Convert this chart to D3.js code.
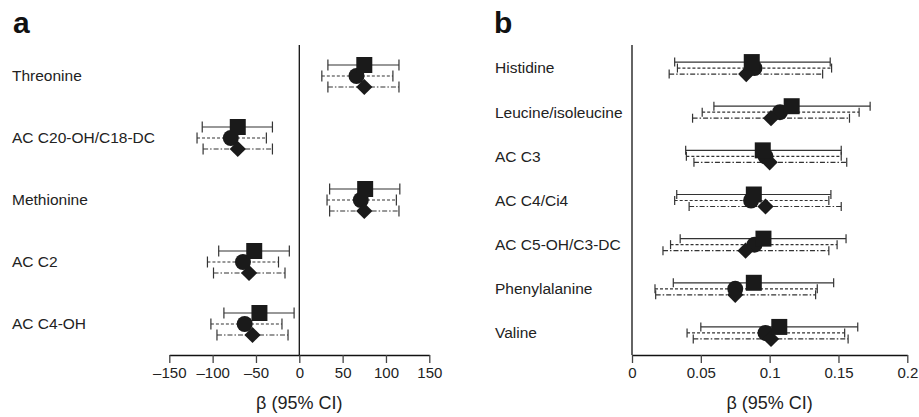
<!DOCTYPE html>
<html>
<head>
<meta charset="utf-8">
<script src="https://cdn.jsdelivr.net/npm/d3@7"></script>
<style>
  body { margin: 0; background: #fff; }
  svg { font-family: "Liberation Sans", Arial, sans-serif; }
</style>
</head>
<body>
<div id="chart"></div>
<script>
// panel a: [estimate, lower, upper] for each model
const labelsA = ['Threonine', 'AC C20-OH/C18-DC', 'Methionine', 'AC C2', 'AC C4-OH'];
const squareA = [[75, 33, 115], [-71, -112, -31], [76, 35, 116], [-52, -93, -11.5], [-46, -87, -6]];
const circleA = [[66, 26, 108], [-79, -118, -38], [71, 32, 112], [-65, -106, -24], [-63, -102, -20]];
const diamondA = [[75, 33, 115], [-71, -111, -31], [75, 35, 115], [-58, -99, -16.5], [-54, -95, -13]];
const ticksA = [-150, -100, -50, 0, 50, 100, 150];

// panel b
const labelsB = ['Histidine', 'Leucine/isoleucine', 'AC C3', 'AC C4/Ci4', 'AC C5-OH/C3-DC', 'Phenylalanine', 'Valine'];
const squareB = [[0.087, 0.031, 0.144], [0.116, 0.0595, 0.173], [0.095, 0.039, 0.152], [0.0885, 0.0325, 0.1445],
  [0.0955, 0.035, 0.1555], [0.0885, 0.030, 0.1465], [0.107, 0.050, 0.164]];
const circleB = [[0.089, 0.033, 0.145], [0.1075, 0.051, 0.165], [0.097, 0.0395, 0.152], [0.0865, 0.031, 0.143],
  [0.089, 0.028, 0.149], [0.075, 0.0167, 0.1346], [0.097, 0.040, 0.1545]];
const diamondB = [[0.083, 0.027, 0.1385], [0.101, 0.044, 0.158], [0.1, 0.045, 0.156], [0.097, 0.0415, 0.152],
  [0.0825, 0.0225, 0.143], [0.075, 0.0172, 0.1334], [0.101, 0.0445, 0.157]];
const ticksB = [0, 0.05, 0.1, 0.15, 0.2];
const tickLabelsB = ['0', '0.05', '0.1', '0.15', '0.2'];

const width = 919, height = 417;
const svg = d3.select('#chart').append('svg')
  .attr('width', width)
  .attr('height', height);

function drawPanel(opt) {
  const g = svg.append('g');
  const x = d3.scaleLinear().domain(opt.domain).range(opt.xRange);
  const y = d3.scaleBand().domain(opt.labels).range(opt.yRange);
  const yc = d => y(d) + y.bandwidth() / 2;
  const axisY = 355;

  // panel letter
  g.append('text')
    .attr('x', opt.letterX).attr('y', 33)
    .attr('font-size', 30).attr('font-weight', 'bold')
    .attr('fill', '#111')
    .text(opt.letter);

  // row labels
  g.selectAll('.lab').data(opt.labels).enter()
    .append('text')
    .attr('x', opt.labelX)
    .attr('y', d => yc(d))
    .attr('dy', '0.35em')
    .attr('font-size', 15.5)
    .attr('fill', '#222')
    .text(d => d);

  // zero line
  g.append('line')
    .attr('x1', x(0)).attr('x2', x(0))
    .attr('y1', 45).attr('y2', axisY)
    .attr('stroke', '#111').attr('stroke-width', 1.3);

  // x axis
  const axis = d3.axisBottom(x)
    .tickValues(opt.ticks)
    .tickSize(8)
    .tickSizeOuter(0)
    .tickFormat((d, i) => opt.tickLabels[i]);
  const ax = g.append('g')
    .attr('transform', `translate(0,${axisY})`)
    .call(axis);
  ax.select('.domain').attr('stroke', '#111').attr('stroke-width', 1.3);
  ax.selectAll('.tick line').attr('stroke', '#444').attr('stroke-width', 1.3);
  ax.selectAll('.tick text')
    .attr('font-size', 15)
    .attr('font-family', '"Liberation Sans", Arial, sans-serif')
    .attr('fill', '#222')
    .attr('y', 12);

  g.append('text')
    .attr('x', (opt.xRange[0] + opt.xRange[1]) / 2)
    .attr('y', 409)
    .attr('text-anchor', 'middle')
    .attr('font-size', 18)
    .attr('fill', '#222')
    .text('β (95% CI)');

  const series = [
    { data: opt.square, off: -opt.gap, dash: null, shape: 'square' },
    { data: opt.circle, off: 0, dash: '3,2', shape: 'circle' },
    { data: opt.diamond, off: opt.gap, dash: '5,2,1.5,2', shape: 'diamond' }
  ];

  series.forEach(s => {
    const rows = s.data.map((v, i) => ({ label: opt.labels[i], est: v[0], lo: v[1], hi: v[2] }));
    const sg = g.append('g');
    sg.selectAll('line.ci').data(rows).enter()
      .append('line')
      .attr('x1', d => x(d.lo)).attr('x2', d => x(d.hi))
      .attr('y1', d => yc(d.label) + s.off).attr('y2', d => yc(d.label) + s.off)
      .attr('stroke', '#333').attr('stroke-width', 1.2)
      .attr('stroke-dasharray', s.dash);
    ['lo', 'hi'].forEach(k => {
      sg.selectAll('line.cap' + k).data(rows).enter()
        .append('line')
        .attr('x1', d => x(d[k])).attr('x2', d => x(d[k]))
        .attr('y1', d => yc(d.label) + s.off - opt.cap / 2)
        .attr('y2', d => yc(d.label) + s.off + opt.cap / 2)
        .attr('stroke', '#333').attr('stroke-width', 1.2);
    });
    s.rows = rows;
  });

  // markers on top
  const sym = {
    square: d3.symbol().type(d3.symbolSquare).size(256),
    circle: d3.symbol().type(d3.symbolCircle).size(201),
    diamond: d3.symbol().type(d3.symbolSquare).size(132)
  };
  [series[1], series[2], series[0]].forEach(s => {
    g.append('g').selectAll('path').data(s.rows).enter()
      .append('path')
      .attr('d', sym[s.shape])
      .attr('fill', '#1a1a1a')
      .attr('transform', d => `translate(${x(d.est)},${yc(d.label) + s.off})` + (s.shape === 'diamond' ? ' rotate(45)' : ''));
  });
}

drawPanel({
  letter: 'a', letterX: 13, labelX: 12,
  labels: labelsA, square: squareA, circle: circleA, diamond: diamondA,
  domain: [-150, 150], xRange: [169.3, 429.3], yRange: [45, 355],
  ticks: ticksA, tickLabels: ticksA.map(d => d < 0 ? '–' + Math.abs(d) : String(d)),
  gap: 11, cap: 11
});

drawPanel({
  letter: 'b', letterX: 494, labelX: 495,
  labels: labelsB, square: squareB, circle: circleB, diamond: diamondB,
  domain: [0, 0.2], xRange: [632, 907.3], yRange: [46, 355],
  ticks: ticksB, tickLabels: tickLabelsB,
  gap: 6, cap: 9
});
</script>
</body>
</html>
